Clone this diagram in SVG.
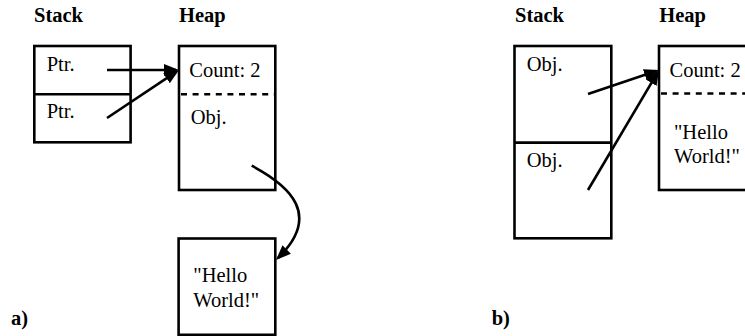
<svg xmlns="http://www.w3.org/2000/svg" width="745" height="336" viewBox="0 0 745 336">
  <style>
    .box { fill: none; stroke: #000; stroke-width: 2.6; }
    .sep { fill: none; stroke: #000; stroke-width: 2.6; }
    .dash { fill: none; stroke: #000; stroke-width: 2.6; stroke-dasharray: 6 5.6; }
    .edge { fill: none; stroke: #000; stroke-width: 2.6; marker-end: url(#head); }
    .t { font-family: "Liberation Serif", "Times New Roman", serif; font-size: 20.5px; fill: #000; }
    .h { font-family: "Liberation Serif", "Times New Roman", serif; font-size: 20.5px; font-weight: bold; fill: #000; }
  </style>
  <defs>
    <marker id="head" markerUnits="userSpaceOnUse" markerWidth="16" markerHeight="14" refX="12" refY="6.5" orient="auto">
      <path d="M0,0.5 L15,6.5 L0,12.5 Z" fill="#000"/>
    </marker>
  </defs>

  <rect width="745" height="336" fill="#fff"/>

  <!-- part a -->
  <g id="a-labels">
    <text class="h" x="34" y="21.7">Stack</text>
    <text class="h" x="179" y="21.7">Heap</text>
    <text class="h" x="11" y="325">a)</text>
  </g>
  <g id="a-stack">
    <rect class="box" x="34.3" y="46" width="96.3" height="96.3"/>
    <line class="sep" x1="34.3" y1="94.3" x2="130.6" y2="94.3"/>
    <text class="t" x="46.7" y="70.7">Ptr.</text>
    <text class="t" x="46.7" y="118.3">Ptr.</text>
  </g>
  <g id="a-heap">
    <rect class="box" x="179" y="46" width="96.3" height="144"/>
    <line class="dash" x1="181" y1="94.3" x2="275.3" y2="94.3"/>
    <text class="t" x="189.3" y="76.5">Count: 2</text>
    <text class="t" x="190.7" y="124">Obj.</text>
  </g>
  <g id="a-string">
    <rect class="box" x="178.6" y="238.5" width="96.7" height="96.3"/>
    <text class="t" x="193.3" y="282.3">"Hello</text>
    <text class="t" x="193.3" y="306.5">World!"</text>
  </g>

  <!-- part b -->
  <g id="b-labels">
    <text class="h" x="515" y="21.7">Stack</text>
    <text class="h" x="659.3" y="21.7">Heap</text>
    <text class="h" x="491.7" y="325">b)</text>
  </g>
  <g id="b-stack">
    <rect class="box" x="514.5" y="46" width="96.8" height="192.3"/>
    <line class="sep" x1="514.5" y1="142.6" x2="611.3" y2="142.6"/>
    <text class="t" x="526.7" y="70.7">Obj.</text>
    <text class="t" x="526.7" y="166.7">Obj.</text>
  </g>
  <g id="b-heap">
    <rect class="box" x="659" y="46" width="96.3" height="144"/>
    <line class="dash" x1="661" y1="93.5" x2="745" y2="93.5"/>
    <text class="t" x="669.5" y="76.5">Count: 2</text>
    <text class="t" x="674" y="139">"Hello</text>
    <text class="t" x="674" y="163.3">World!"</text>
  </g>

  <g id="connectors">
    <path class="edge" d="M107,70 L176,70"/>
    <path class="edge" d="M107,118 L176.5,71.7"/>
    <path class="edge" d="M251.7,165.7 C290,186 322,215 278.1,257.9"/>
    <path class="edge" d="M588,94 L656.2,71"/>
    <path class="edge" d="M588,190 L657.5,72.6"/>
  </g>
</svg>
